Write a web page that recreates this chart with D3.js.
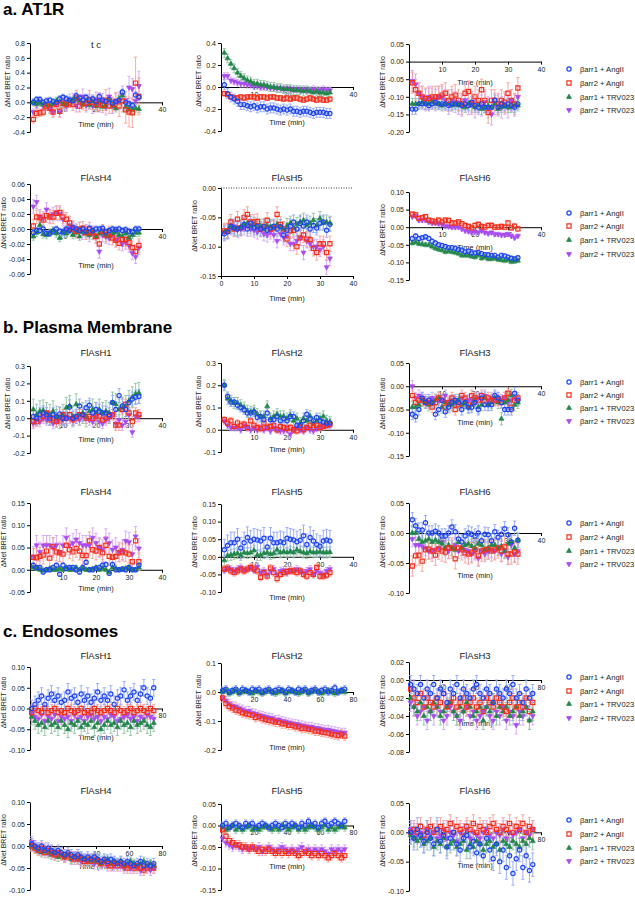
<!DOCTYPE html>
<html><head><meta charset="utf-8">
<script src="https://cdn.jsdelivr.net/npm/d3@7"></script>
<style>body{margin:0;background:#fff}svg{display:block;font-family:"Liberation Sans",Arial,sans-serif}</style>
</head><body><svg id="c" width="635" height="900"></svg>
<script>
// ---------- DATA ----------
const seriesNames = ["βarr1 + AngII","βarr2 + AngII","βarr1 + TRV023","βarr2 + TRV023"];
const sectionTitles = ["a. AT1R","b. Plasma Membrane","c. Endosomes"];
const panelTitles = [["t c","",""],["FlAsH4","FlAsH5","FlAsH6"],["FlAsH1","FlAsH2","FlAsH3"],["FlAsH4","FlAsH5","FlAsH6"],["FlAsH1","FlAsH2","FlAsH3"],["FlAsH4","FlAsH5","FlAsH6"]];
const time_ab = [1,2,3,4,5,6,7,8,9,10,11,12,13,14,15,16,17,18,19,20,21,22,23,24,25,26,27,28,29,30,31,32,33];
const time_c = [1,3,5,7,9,11,13,15,17,19,21,23,25,27,29,31,33,35,37,39,41,43,45,47,49,51,53,55,57,59,61,63,65,67,69,71,73,75];
const xt_ab = [10,20,30,40];
const xt_ab0 = [0,10,20,30,40];
const xt_c = [20,40,60,80];

// a. AT1R
const a_h1_yt = [-0.4,-0.2,0,0.2,0.4,0.6,0.8];
const a_h1_b1A = [0.00,0.04,0.04,0.00,0.02,0.03,0.01,0.00,0.05,0.07,0.05,0.03,0.02,0.09,0.06,0.03,0.07,0.02,0.05,0.01,0.08,0.03,0.01,0.04,-0.01,0.01,0.03,0.14,0.00,-0.02,-0.04,0.10,0.07];
const a_h1_b2A = [-0.23,-0.15,-0.14,-0.13,-0.05,-0.08,-0.13,-0.03,-0.12,-0.01,-0.03,-0.01,-0.03,0.06,-0.05,-0.02,-0.01,0.04,0.00,-0.03,0.01,-0.04,0.03,-0.05,-0.03,0.01,-0.05,0.02,-0.10,-0.13,-0.14,0.26,0.08];
const a_h1_b1T = [0.00,-0.02,-0.01,-0.03,-0.04,-0.04,-0.03,0.02,0.01,-0.03,-0.02,0.02,0.03,0.04,0.03,-0.03,0.02,-0.04,0.01,-0.05,0.00,-0.06,-0.05,0.03,-0.05,-0.08,0.05,0.09,-0.06,-0.09,-0.10,-0.08,-0.09];
const a_h1_b2T = [-0.13,-0.03,0.01,-0.05,-0.02,-0.09,-0.13,-0.02,-0.13,0.00,-0.05,0.03,0.04,-0.05,0.01,0.08,-0.04,0.01,-0.05,0.04,-0.03,0.02,-0.06,0.08,-0.05,0.02,0.02,0.10,0.03,0.20,0.18,0.02,0.22];
const a_h1_b2A_err = [0.05,0.06,0.05,0.05,0.06,0.06,0.07,0.06,0.08,0.07,0.07,0.06,0.08,0.10,0.08,0.08,0.10,0.12,0.10,0.10,0.12,0.10,0.14,0.10,0.10,0.12,0.14,0.15,0.18,0.20,0.20,0.35,0.25];
const a_h1_b2T_err = [0.04,0.05,0.05,0.05,0.06,0.06,0.06,0.06,0.07,0.07,0.07,0.08,0.08,0.08,0.09,0.10,0.09,0.10,0.10,0.10,0.10,0.10,0.11,0.11,0.10,0.10,0.12,0.12,0.12,0.15,0.14,0.12,0.20];
const a_h1_err = [0.04,a_h1_b2A_err,0.05,a_h1_b2T_err];

const a_h2_yt = [-0.4,-0.2,0,0.2,0.4];
const a_h2_b1A = [0.02,-0.06,-0.09,-0.11,-0.13,-0.16,-0.16,-0.17,-0.18,-0.17,-0.19,-0.18,-0.18,-0.20,-0.19,-0.19,-0.20,-0.21,-0.20,-0.21,-0.20,-0.22,-0.22,-0.23,-0.22,-0.22,-0.23,-0.24,-0.23,-0.23,-0.23,-0.24,-0.24];
const a_h2_b2A = [-0.06,-0.07,-0.09,-0.10,-0.10,-0.09,-0.10,-0.09,-0.09,-0.09,-0.10,-0.09,-0.09,-0.10,-0.09,-0.09,-0.10,-0.10,-0.11,-0.10,-0.11,-0.10,-0.10,-0.11,-0.12,-0.11,-0.10,-0.11,-0.12,-0.11,-0.12,-0.12,-0.11];
const a_h2_b1T = [0.31,0.26,0.21,0.17,0.13,0.10,0.08,0.06,0.05,0.03,0.03,0.02,0.02,0.01,0.00,0.00,-0.01,-0.01,-0.02,-0.02,-0.02,-0.03,-0.03,-0.03,-0.04,-0.03,-0.04,-0.05,-0.04,-0.05,-0.05,-0.06,-0.05];
const a_h2_b2T = [0.10,0.10,0.06,0.05,0.04,0.03,0.03,0.02,0.02,0.01,0.01,0.00,0.00,0.00,-0.01,-0.01,-0.01,-0.01,-0.02,-0.01,-0.02,-0.02,-0.02,-0.03,-0.02,-0.03,-0.03,-0.02,-0.03,-0.03,-0.02,-0.03,-0.03];
const a_h2_err = [0.045,0.02,0.04,0.03];

const a_h3_yt = [-0.20,-0.15,-0.10,-0.05,0,0.05];
const a_h3_b1A = [-0.135,-0.135,-0.12,-0.12,-0.12,-0.125,-0.12,-0.115,-0.12,-0.12,-0.12,-0.125,-0.12,-0.12,-0.12,-0.125,-0.12,-0.125,-0.115,-0.125,-0.13,-0.12,-0.13,-0.13,-0.13,-0.11,-0.13,-0.12,-0.125,-0.12,-0.125,-0.13,-0.12];
const a_h3_b2A = [-0.06,-0.08,-0.09,-0.10,-0.105,-0.105,-0.10,-0.10,-0.10,-0.095,-0.09,-0.11,-0.10,-0.095,-0.11,-0.12,-0.09,-0.085,-0.12,-0.10,-0.11,-0.08,-0.11,-0.145,-0.11,-0.11,-0.12,-0.11,-0.115,-0.09,-0.11,-0.12,-0.075];
const a_h3_b1T = [-0.12,-0.12,-0.12,-0.115,-0.12,-0.12,-0.115,-0.12,-0.12,-0.125,-0.12,-0.12,-0.125,-0.12,-0.125,-0.12,-0.13,-0.12,-0.125,-0.13,-0.125,-0.135,-0.13,-0.125,-0.13,-0.12,-0.135,-0.13,-0.125,-0.13,-0.13,-0.125,-0.125];
const a_h3_b2T = [-0.055,-0.065,-0.09,-0.10,-0.11,-0.10,-0.105,-0.11,-0.10,-0.10,-0.11,-0.12,-0.11,-0.115,-0.12,-0.125,-0.11,-0.12,-0.115,-0.13,-0.12,-0.125,-0.115,-0.13,-0.15,-0.12,-0.125,-0.13,-0.12,-0.13,-0.11,-0.125,-0.10];
const a_h3_err = [0.015,0.03,0.015,0.03];

const a_h4_yt = [-0.06,-0.04,-0.02,0,0.02,0.04,0.06];
const a_h4_b1A = [-0.005,-0.002,-0.002,0.000,-0.006,-0.006,-0.003,0.000,-0.003,-0.004,0.000,-0.002,0.002,0.000,-0.002,0.000,-0.003,0.001,-0.002,0.000,0.000,0.001,-0.004,-0.002,0.000,-0.001,0.000,-0.002,-0.001,-0.003,-0.004,0.000,0.000];
const a_h4_b2A = [0.004,0.016,0.015,0.012,0.018,0.016,0.016,0.021,0.022,0.016,0.013,0.008,0.000,-0.003,0.000,0.001,-0.005,0.000,-0.005,-0.010,-0.020,-0.003,-0.008,-0.005,-0.012,-0.015,-0.019,-0.014,-0.014,-0.018,-0.025,-0.030,-0.022];
const a_h4_b1T = [-0.010,-0.005,0.005,-0.007,-0.008,-0.005,-0.002,-0.006,-0.012,-0.004,-0.006,-0.002,-0.008,-0.005,-0.010,-0.004,-0.006,-0.008,-0.004,-0.010,-0.006,-0.005,-0.008,-0.010,-0.006,-0.004,-0.008,-0.010,-0.006,-0.012,-0.008,-0.005,-0.005];
const a_h4_b2T = [0.030,0.036,0.017,0.014,0.026,0.017,0.020,0.022,0.020,0.013,0.000,0.005,0.002,-0.002,0.000,-0.005,-0.003,-0.008,-0.005,-0.010,-0.030,-0.008,-0.010,-0.012,-0.008,-0.015,-0.010,-0.020,-0.018,-0.022,-0.032,-0.037,-0.025];
const a_h4_err = [0.004,0.009,0.005,0.009];

const a_h5_yt = [-0.15,-0.10,-0.05,0];
const a_h5_b1A = [-0.078,-0.075,-0.065,-0.068,-0.070,-0.068,-0.062,-0.070,-0.060,-0.068,-0.065,-0.070,-0.066,-0.072,-0.068,-0.065,-0.070,-0.066,-0.080,-0.072,-0.065,-0.058,-0.070,-0.060,-0.065,-0.058,-0.070,-0.064,-0.068,-0.060,-0.058,-0.072,-0.062];
const a_h5_b2A = [-0.073,-0.073,-0.058,-0.070,-0.053,-0.068,-0.050,-0.045,-0.058,-0.058,-0.057,-0.070,-0.065,-0.055,-0.070,-0.068,-0.045,-0.062,-0.070,-0.087,-0.073,-0.072,-0.100,-0.085,-0.080,-0.087,-0.088,-0.103,-0.110,-0.095,-0.095,-0.110,-0.095];
const a_h5_b1T = [-0.075,-0.072,-0.065,-0.070,-0.068,-0.066,-0.062,-0.060,-0.065,-0.062,-0.068,-0.065,-0.070,-0.064,-0.066,-0.068,-0.062,-0.066,-0.070,-0.064,-0.060,-0.068,-0.062,-0.058,-0.055,-0.063,-0.060,-0.055,-0.064,-0.052,-0.060,-0.058,-0.060];
const a_h5_b2T = [-0.075,-0.073,-0.068,-0.065,-0.072,-0.070,-0.068,-0.065,-0.070,-0.072,-0.075,-0.070,-0.078,-0.080,-0.075,-0.080,-0.090,-0.078,-0.085,-0.082,-0.095,-0.095,-0.090,-0.085,-0.110,-0.090,-0.095,-0.100,-0.100,-0.105,-0.100,-0.135,-0.120];
const a_h5_err = [0.012,0.013,0.012,0.012];

const a_h6_yt = [-0.15,-0.10,-0.05,0,0.05,0.10];
const a_h6_b1A = [-0.032,-0.025,-0.032,-0.030,-0.027,-0.032,-0.040,-0.045,-0.050,-0.052,-0.055,-0.058,-0.058,-0.060,-0.063,-0.065,-0.070,-0.068,-0.073,-0.073,-0.072,-0.075,-0.078,-0.078,-0.080,-0.080,-0.085,-0.080,-0.082,-0.085,-0.088,-0.090,-0.087];
const a_h6_b2A = [0.037,0.035,0.025,0.027,0.030,0.020,0.018,0.015,0.020,0.015,0.020,0.019,0.012,0.012,0.015,0.010,0.005,0.002,-0.002,0.005,0.008,0.002,0.000,0.005,0.005,0.000,0.000,0.002,0.000,0.012,-0.002,0.003,-0.005];
const a_h6_b1T = [-0.045,-0.042,-0.047,-0.048,-0.050,-0.050,-0.055,-0.060,-0.063,-0.065,-0.070,-0.068,-0.070,-0.072,-0.075,-0.080,-0.080,-0.080,-0.083,-0.085,-0.080,-0.088,-0.085,-0.090,-0.090,-0.088,-0.092,-0.093,-0.095,-0.093,-0.098,-0.097,-0.095];
const a_h6_b2T = [0.030,0.032,0.020,0.020,0.020,0.015,0.012,0.012,0.010,0.008,0.003,0.002,0.000,0.000,0.000,-0.005,-0.010,-0.012,-0.015,-0.012,-0.015,-0.010,-0.015,-0.018,-0.015,-0.020,-0.020,-0.022,-0.022,-0.020,-0.025,-0.030,-0.025];
const a_h6_err = [0.006,0.007,0.006,0.006];

// b. Plasma Membrane
const b_h1_yt = [-0.2,-0.1,0,0.1,0.2,0.3];
const b_h1_b1A = [0.010,0.000,0.020,0.030,0.020,0.000,0.020,0.010,0.025,0.000,0.000,0.065,0.000,0.010,0.070,0.020,0.060,0.075,0.030,0.050,0.040,0.030,0.030,0.020,0.090,0.050,0.130,0.070,0.050,0.090,0.110,0.120,0.125];
const b_h1_b2A = [-0.020,-0.020,0.000,0.010,0.030,-0.010,0.000,-0.020,-0.010,0.020,0.000,0.020,-0.010,0.000,0.020,0.020,0.000,0.010,0.000,0.010,0.010,-0.010,0.000,0.010,0.020,-0.040,-0.040,0.050,0.080,0.030,-0.020,0.030,0.020];
const b_h1_b1T = [0.050,0.020,0.040,0.045,0.030,0.020,0.040,0.010,0.000,0.020,0.060,0.070,0.010,0.080,0.020,0.030,0.010,0.040,0.050,0.030,0.050,0.030,0.040,0.030,0.090,0.080,0.050,0.060,0.070,0.100,0.120,0.140,0.145];
const b_h1_b2T = [-0.030,-0.010,-0.020,0.000,-0.010,0.010,-0.030,-0.020,0.000,-0.010,0.010,0.000,-0.010,0.010,-0.010,0.020,0.000,-0.010,-0.020,0.010,-0.020,-0.030,-0.010,0.000,0.020,-0.030,-0.010,-0.040,-0.020,0.020,-0.080,0.010,0.010];
const b_h1_err = [0.04,0.03,0.06,0.03];

const b_h2_yt = [-0.1,0,0.1,0.2,0.3];
const b_h2_b1A = [0.200,0.150,0.125,0.125,0.110,0.100,0.090,0.075,0.075,0.080,0.055,0.060,0.045,0.075,0.045,0.045,0.060,0.040,0.050,0.040,0.060,0.060,0.020,0.020,0.040,0.070,0.050,0.040,0.055,0.040,0.035,0.030,0.030];
const b_h2_b2A = [0.045,0.030,0.040,0.015,0.030,0.020,0.025,0.010,0.040,0.020,0.010,0.005,0.030,0.010,0.015,0.020,0.000,0.015,0.010,0.005,0.010,0.000,-0.005,0.010,0.000,0.010,0.020,0.010,0.020,0.010,0.015,0.020,0.025];
const b_h2_b1T = [0.200,0.140,0.130,0.120,0.120,0.110,0.100,0.085,0.080,0.085,0.070,0.060,0.060,0.105,0.050,0.060,0.070,0.060,0.060,0.050,0.065,0.040,0.050,0.030,0.050,0.040,0.060,0.030,0.040,0.050,0.060,0.040,0.035];
const b_h2_b2T = [0.040,0.020,0.010,0.010,0.010,0.000,0.020,0.010,0.000,0.010,0.000,0.010,0.000,0.010,-0.005,0.010,0.000,-0.005,-0.005,0.000,-0.020,0.000,0.010,0.000,-0.005,0.010,0.000,-0.005,0.005,0.010,0.020,0.020,0.020];
const b_h2_err = [0.02,0.015,0.025,0.015];

const b_h3_yt = [-0.15,-0.10,-0.05,0,0.05];
const b_h3_b1A = [-0.060,-0.065,-0.050,-0.025,-0.035,-0.030,-0.035,-0.060,-0.050,-0.030,-0.055,-0.045,-0.035,-0.030,-0.035,-0.050,-0.035,-0.045,-0.045,-0.035,-0.050,-0.025,-0.040,-0.040,-0.040,-0.020,-0.025,-0.035,-0.050,-0.050,-0.050,-0.015,-0.030];
const b_h3_b2A = [-0.020,-0.035,-0.030,-0.030,-0.035,-0.035,-0.045,-0.035,-0.025,-0.030,-0.045,-0.035,-0.025,-0.050,-0.040,-0.020,-0.025,-0.040,-0.020,-0.025,-0.030,-0.020,-0.030,-0.025,-0.030,-0.030,-0.030,-0.035,-0.025,-0.015,-0.045,-0.030,-0.025];
const b_h3_b1T = [-0.045,-0.045,-0.040,-0.030,-0.035,-0.040,-0.035,-0.030,-0.025,-0.045,-0.035,-0.040,-0.040,-0.035,-0.030,-0.040,-0.035,-0.045,-0.040,-0.030,-0.045,-0.040,-0.025,-0.040,-0.035,-0.025,-0.035,-0.070,-0.035,-0.030,-0.020,-0.040,-0.035];
const b_h3_b2T = [0.000,-0.025,-0.020,-0.025,-0.030,-0.035,-0.025,-0.030,-0.030,-0.030,-0.020,-0.035,-0.030,-0.035,-0.030,-0.025,-0.035,-0.030,-0.030,-0.035,-0.025,-0.030,-0.020,-0.030,-0.025,-0.030,-0.025,-0.030,-0.025,-0.035,-0.030,-0.025,-0.030];
const b_h3_err = [0.012,0.012,0.013,0.012];

const b_h4_yt = [-0.05,0,0.05,0.10,0.15];
const b_h4_b1A = [0.010,0.005,0.005,-0.005,0.000,0.000,0.005,0.010,-0.010,0.010,0.003,0.005,0.005,0.000,-0.005,0.005,0.017,0.000,0.000,0.003,0.005,0.010,0.012,-0.008,0.012,0.000,0.000,0.002,0.000,0.005,0.000,0.000,0.010];
const b_h4_b2A = [0.028,0.027,0.030,0.033,0.042,0.026,0.052,0.040,0.038,0.035,0.055,0.045,0.040,0.048,0.042,0.032,0.032,0.065,0.045,0.042,0.050,0.038,0.055,0.030,0.028,0.030,0.038,0.040,0.038,0.035,0.018,0.065,0.018];
const b_h4_b1T = [0.005,0.003,0.000,-0.002,0.000,0.003,0.000,0.000,0.003,0.000,0.005,0.000,0.000,0.005,0.000,0.003,0.000,0.000,0.002,0.005,0.000,0.003,0.000,-0.005,0.005,0.003,0.000,0.000,0.003,0.005,0.000,0.000,0.005];
const b_h4_b2T = [0.030,0.055,0.040,0.055,0.055,0.055,0.050,0.055,0.040,0.055,0.072,0.055,0.060,0.068,0.060,0.055,0.055,0.055,0.072,0.060,0.050,0.045,0.070,0.060,0.045,0.050,0.040,0.045,0.065,0.062,0.035,0.075,0.048];
const b_h4_err = [0.005,0.02,0.004,0.022];

const b_h5_yt = [-0.10,-0.05,0,0.05,0.10,0.15];
const b_h5_b1A = [0.020,0.032,0.040,0.040,0.050,0.025,0.040,0.055,0.045,0.050,0.048,0.045,0.053,0.028,0.053,0.040,0.040,0.043,0.040,0.053,0.050,0.048,0.043,0.047,0.060,0.035,0.055,0.045,0.035,0.030,0.045,0.048,0.045];
const b_h5_b2A = [-0.035,-0.032,-0.040,-0.045,-0.040,-0.035,-0.040,-0.035,-0.030,-0.035,-0.040,-0.058,-0.045,-0.055,-0.032,-0.045,-0.062,-0.050,-0.045,-0.042,-0.040,-0.040,-0.045,-0.040,-0.050,-0.055,-0.045,-0.050,-0.030,-0.055,-0.055,-0.052,-0.045];
const b_h5_b1T = [-0.010,0.003,0.005,0.008,0.010,0.005,0.012,0.010,0.012,0.018,0.005,0.005,0.010,0.012,0.008,0.010,0.020,0.012,0.015,0.012,0.015,0.012,0.020,0.015,0.012,0.010,0.015,0.012,0.013,0.015,0.012,0.012,0.013];
const b_h5_b2T = [-0.038,-0.032,-0.035,-0.040,-0.035,-0.030,-0.038,-0.035,-0.030,-0.038,-0.028,-0.045,-0.040,-0.050,-0.040,-0.035,-0.050,-0.040,-0.038,-0.045,-0.038,-0.040,-0.035,-0.040,-0.045,-0.040,-0.035,-0.050,-0.040,-0.045,-0.050,-0.040,-0.035];
const b_h5_err = [0.03,0.01,0.015,0.01];

const b_h6_yt = [-0.10,-0.05,0,0.05];
const b_h6_b1A = [0.022,0.012,0.005,0.005,0.017,0.000,0.000,0.003,0.000,-0.005,-0.005,0.000,0.010,0.002,-0.010,-0.015,-0.005,0.000,-0.002,-0.005,0.000,-0.013,-0.002,-0.003,-0.013,0.002,-0.007,-0.002,0.007,-0.003,-0.015,0.008,-0.012];
const b_h6_b2A = [-0.055,-0.038,-0.037,-0.047,-0.028,-0.027,-0.030,-0.037,-0.027,-0.030,-0.032,-0.025,-0.025,-0.043,-0.025,-0.028,-0.033,-0.035,-0.033,-0.028,-0.038,-0.030,-0.028,-0.027,-0.030,-0.028,-0.025,-0.030,-0.023,-0.035,-0.035,-0.032,-0.035];
const b_h6_b1T = [0.000,0.000,-0.010,-0.015,-0.013,-0.010,-0.015,-0.012,-0.015,-0.018,-0.025,-0.020,-0.025,-0.028,-0.015,-0.025,-0.020,-0.018,-0.022,-0.025,-0.018,-0.020,-0.028,-0.025,-0.020,-0.020,-0.025,-0.022,-0.030,-0.018,-0.015,-0.025,-0.012];
const b_h6_b2T = [-0.010,-0.020,-0.020,-0.022,-0.025,-0.030,-0.030,-0.028,-0.025,-0.015,-0.025,-0.030,-0.025,-0.020,-0.030,-0.025,-0.028,-0.030,-0.035,-0.030,-0.042,-0.030,-0.035,-0.030,-0.028,-0.030,-0.025,-0.035,-0.030,-0.040,-0.020,-0.035,-0.030];
const b_h6_err = [0.012,0.017,0.012,0.013];

// c. Endosomes
const c_h1_yt = [-0.10,-0.05,0,0.05,0.10];
const c_h1_b1A = [.000,.010,.020,.030,.010,.025,.035,.020,.030,.015,.020,.040,.025,.030,.015,.035,.020,.030,.015,.025,.040,.020,.030,.020,.035,.010,.025,.030,.045,.020,.030,.040,.020,.035,.050,.030,.025,.050];
const c_h1_b2A = [-.010,.000,-.005,-.010,.000,-.010,-.005,.000,-.010,-.005,-.010,.000,-.005,-.010,-.005,.000,-.010,-.005,-.010,.000,-.005,-.010,-.005,.000,-.005,-.010,.000,-.005,-.010,-.005,.000,-.010,-.005,.000,-.005,-.010,.000,-.005];
const c_h1_b1T = [-.020,-.030,-.040,-.035,-.045,-.030,-.040,-.035,-.045,-.030,-.040,-.050,-.035,-.040,-.030,-.045,-.035,-.040,-.030,-.045,-.035,-.050,-.040,-.030,-.040,-.035,-.045,-.030,-.040,-.035,-.045,-.030,-.040,-.035,-.030,-.040,-.045,-.035];
const c_h1_b2T = [-.010,-.020,-.025,-.015,-.030,-.020,-.025,-.015,-.030,-.020,-.025,-.020,-.030,-.015,-.025,-.020,-.030,-.020,-.015,-.025,-.020,-.030,-.020,-.025,-.015,-.020,-.030,-.025,-.020,-.015,-.025,-.020,-.030,-.020,-.025,-.015,-.020,-.025];
const c_h1_err = [0.02,0.015,0.02,0.018];

const c_h2_yt = [-0.2,-0.1,0,0.1];
const c_h2_b1A = [.005,.010,.000,.005,.010,.000,.010,.005,.000,.010,.005,.010,.000,.005,.010,.000,.005,.010,.005,.000,.010,.005,.000,.010,.005,.010,.000,.005,.010,.000,.005,.010,.000,.005,.015,.000,.005,.010];
const c_h2_b2A = [-.020,-.040,-.050,-.055,-.062,-.065,-.072,-.075,-.078,-.080,-.088,-.085,-.092,-.095,-.098,-.100,-.104,-.105,-.110,-.110,-.115,-.115,-.120,-.120,-.126,-.125,-.128,-.130,-.135,-.135,-.138,-.140,-.142,-.145,-.148,-.150,-.145,-.152];
const c_h2_b1T = [.000,.005,-.005,.000,.005,-.005,.000,.005,.000,-.005,.005,.000,-.005,.000,.005,.000,-.005,.000,.005,-.005,.000,.005,.000,-.005,.000,.005,-.005,.000,.005,.000,-.005,.000,.005,.000,-.005,.000,.005,.000];
const c_h2_b2T = [-.020,-.030,-.040,-.048,-.050,-.056,-.060,-.066,-.065,-.072,-.075,-.080,-.082,-.085,-.088,-.090,-.096,-.095,-.100,-.102,-.105,-.108,-.110,-.112,-.115,-.118,-.120,-.120,-.124,-.125,-.128,-.130,-.130,-.133,-.135,-.138,-.140,-.140];
const c_h2_err = [0.012,0.015,0.01,0.015];

const c_h3_yt = [-0.08,-0.06,-0.04,-0.02,0,0.02];
const c_h3_b1A = [-.005,-.010,-.015,-.005,-.020,-.010,-.015,-.005,-.020,-.010,-.015,-.025,-.010,-.015,-.005,-.020,-.010,-.015,-.020,-.010,-.005,-.015,-.020,-.010,-.015,-.025,-.010,-.015,-.020,-.010,-.015,-.005,-.020,-.015,-.025,-.010,-.020,-.015];
const c_h3_b2A = [-.010,-.020,-.025,-.015,-.030,-.020,-.025,-.030,-.020,-.025,-.015,-.030,-.025,-.020,-.030,-.025,-.020,-.030,-.025,-.020,-.030,-.025,-.035,-.020,-.025,-.030,-.020,-.025,-.030,-.035,-.025,-.020,-.030,-.025,-.030,-.020,-.035,-.025];
const c_h3_b1T = [-.020,-.030,-.035,-.025,-.040,-.030,-.035,-.025,-.030,-.040,-.035,-.030,-.025,-.035,-.040,-.030,-.035,-.025,-.030,-.040,-.035,-.030,-.045,-.030,-.035,-.025,-.040,-.030,-.035,-.030,-.040,-.035,-.030,-.040,-.035,-.030,-.045,-.035];
const c_h3_b2T = [-.025,-.030,-.040,-.035,-.030,-.045,-.035,-.040,-.030,-.035,-.045,-.040,-.030,-.035,-.040,-.045,-.035,-.030,-.040,-.035,-.045,-.040,-.035,-.030,-.040,-.045,-.035,-.040,-.030,-.045,-.035,-.040,-.050,-.035,-.040,-.030,-.045,-.040];
const c_h3_err = [0.01,0.01,0.01,0.01];

const c_h4_yt = [-0.10,-0.05,0,0.05,0.10];
const c_h4_b1A = [.005,.000,-.005,.000,-.010,-.005,-.010,-.015,-.010,-.015,-.020,-.015,-.020,-.025,-.020,-.025,-.030,-.025,-.030,-.025,-.030,-.035,-.030,-.035,-.030,-.035,-.040,-.035,-.040,-.035,-.040,-.045,-.040,-.035,-.045,-.040,-.045,-.040];
const c_h4_b2A = [.000,-.005,-.010,-.005,-.015,-.010,-.015,-.020,-.015,-.020,-.025,-.020,-.025,-.030,-.025,-.030,-.035,-.030,-.035,-.030,-.035,-.040,-.035,-.040,-.045,-.040,-.045,-.040,-.045,-.050,-.045,-.050,-.045,-.050,-.055,-.050,-.045,-.050];
const c_h4_b1T = [.000,-.005,-.010,-.015,-.010,-.015,-.020,-.015,-.025,-.020,-.025,-.020,-.030,-.025,-.030,-.025,-.030,-.035,-.030,-.035,-.030,-.040,-.035,-.030,-.040,-.035,-.040,-.035,-.045,-.040,-.035,-.040,-.045,-.040,-.035,-.045,-.040,-.045];
const c_h4_b2T = [.010,.000,-.005,-.010,-.005,-.015,-.010,-.020,-.015,-.020,-.025,-.020,-.030,-.025,-.030,-.035,-.030,-.035,-.030,-.040,-.035,-.040,-.035,-.045,-.040,-.045,-.040,-.045,-.050,-.045,-.050,-.045,-.050,-.055,-.050,-.045,-.055,-.050];
const c_h4_err = [0.012,0.012,0.01,0.012];

const c_h5_yt = [-0.15,-0.10,-0.05,0,0.05];
const c_h5_b1A = [.000,.005,-.005,.000,.005,.000,-.005,.005,.000,.005,-.005,.000,.005,.000,-.005,.000,.005,.000,-.005,.005,.000,.005,.000,-.005,.005,.000,.010,.000,.005,-.005,.005,.010,.000,.005,.010,.005,.000,.010];
const c_h5_b2A = [-.010,-.025,-.035,-.040,-.045,-.045,-.050,-.050,-.055,-.050,-.055,-.060,-.055,-.060,-.055,-.060,-.065,-.060,-.065,-.060,-.065,-.060,-.065,-.070,-.065,-.060,-.065,-.070,-.065,-.070,-.065,-.070,-.075,-.070,-.065,-.070,-.075,-.070];
const c_h5_b1T = [-.005,-.010,-.005,.000,-.010,-.005,-.010,-.005,.000,-.010,-.005,-.010,-.005,.000,-.005,-.010,-.005,-.010,.000,-.005,-.010,-.005,.000,-.010,-.005,-.010,-.005,.000,-.005,-.010,-.005,.000,-.010,-.005,-.010,-.005,.000,-.005];
const c_h5_b2T = [-.030,-.040,-.045,-.050,-.045,-.050,-.055,-.050,-.055,-.050,-.055,-.050,-.060,-.055,-.050,-.055,-.060,-.055,-.050,-.055,-.060,-.055,-.060,-.055,-.050,-.060,-.055,-.060,-.055,-.060,-.055,-.060,-.065,-.055,-.060,-.055,-.060,-.055];
const c_h5_err = [0.008,0.01,0.008,0.01];

const c_h6_yt = [-0.10,-0.05,0,0.05];
const c_h6_b1A = [.000,-.010,.005,-.005,-.015,.000,-.010,-.020,.005,-.015,-.005,-.025,-.010,.000,-.020,-.030,-.010,-.005,-.025,-.015,-.035,-.020,-.040,-.010,-.030,-.045,-.020,-.050,-.030,-.060,-.040,-.070,-.045,-.030,-.060,-.040,-.065,-.055];
const c_h6_b2A = [.000,.005,.000,.010,-.005,.005,.010,.000,.005,.010,.000,.005,.015,.000,.010,.005,.000,.010,.005,.015,.000,.010,.005,.000,.010,.015,.005,.000,.010,.005,.015,.000,.010,.005,.015,.000,.010,.005];
const c_h6_b1T = [-.005,-.010,-.015,-.010,-.020,-.015,-.010,-.025,-.015,-.020,-.010,-.025,-.020,-.015,-.025,-.020,-.015,-.030,-.020,-.025,-.015,-.020,-.030,-.020,-.015,-.025,-.020,-.030,-.015,-.020,-.025,-.015,-.020,-.025,-.015,-.020,-.010,-.015];
const c_h6_b2T = [.005,.000,-.005,.000,-.010,.005,-.005,.000,-.010,-.005,.005,-.010,.000,-.005,-.015,.000,-.005,.005,-.010,.000,-.005,-.010,.000,.005,-.005,-.010,.000,-.005,.005,-.010,.000,-.005,.000,.005,-.010,.000,-.005,.005];
const c_h6_err = [0.02,0.015,0.015,0.015];

// ---------- TABLE ----------
const panelData = [
  [[time_ab,xt_ab,a_h1_yt,[a_h1_b1A,a_h1_b2A,a_h1_b1T,a_h1_b2T],a_h1_err],
   [time_ab,xt_ab,a_h2_yt,[a_h2_b1A,a_h2_b2A,a_h2_b1T,a_h2_b2T],a_h2_err],
   [time_ab,xt_ab,a_h3_yt,[a_h3_b1A,a_h3_b2A,a_h3_b1T,a_h3_b2T],a_h3_err]],
  [[time_ab,xt_ab,a_h4_yt,[a_h4_b1A,a_h4_b2A,a_h4_b1T,a_h4_b2T],a_h4_err],
   [time_ab,xt_ab0,a_h5_yt,[a_h5_b1A,a_h5_b2A,a_h5_b1T,a_h5_b2T],a_h5_err],
   [time_ab,xt_ab,a_h6_yt,[a_h6_b1A,a_h6_b2A,a_h6_b1T,a_h6_b2T],a_h6_err]],
  [[time_ab,xt_ab,b_h1_yt,[b_h1_b1A,b_h1_b2A,b_h1_b1T,b_h1_b2T],b_h1_err],
   [time_ab,xt_ab,b_h2_yt,[b_h2_b1A,b_h2_b2A,b_h2_b1T,b_h2_b2T],b_h2_err],
   [time_ab,xt_ab,b_h3_yt,[b_h3_b1A,b_h3_b2A,b_h3_b1T,b_h3_b2T],b_h3_err]],
  [[time_ab,xt_ab,b_h4_yt,[b_h4_b1A,b_h4_b2A,b_h4_b1T,b_h4_b2T],b_h4_err],
   [time_ab,xt_ab,b_h5_yt,[b_h5_b1A,b_h5_b2A,b_h5_b1T,b_h5_b2T],b_h5_err],
   [time_ab,xt_ab,b_h6_yt,[b_h6_b1A,b_h6_b2A,b_h6_b1T,b_h6_b2T],b_h6_err]],
  [[time_c,xt_c,c_h1_yt,[c_h1_b1A,c_h1_b2A,c_h1_b1T,c_h1_b2T],c_h1_err],
   [time_c,xt_c,c_h2_yt,[c_h2_b1A,c_h2_b2A,c_h2_b1T,c_h2_b2T],c_h2_err],
   [time_c,xt_c,c_h3_yt,[c_h3_b1A,c_h3_b2A,c_h3_b1T,c_h3_b2T],c_h3_err]],
  [[time_c,xt_c,c_h4_yt,[c_h4_b1A,c_h4_b2A,c_h4_b1T,c_h4_b2T],c_h4_err],
   [time_c,xt_c,c_h5_yt,[c_h5_b1A,c_h5_b2A,c_h5_b1T,c_h5_b2T],c_h5_err],
   [time_c,xt_c,c_h6_yt,[c_h6_b1A,c_h6_b2A,c_h6_b1T,c_h6_b2T],c_h6_err]]
];

// ---------- LAYOUT / STYLE ----------
const colX = [30,221,409], PW = 132;
const topBot = [[[43,132],[43,131],[44,132]],[[184,274],[188,276],[192,280]],[[366,453],[363,452],[363,456]],
                [[503,592],[504,592],[503,593]],[[667,750],[663,750],[662,752]],[[802,890],[804,890],[803,891]]];
const titleY = [48,181,356,495,659,794];
const timeY = [[124,122,82],[265,298,247],[439,449,422],[588,597,575],[737,747,723],[866,866,865]];
const legendY = [[69,83,97,110],[213,226,240,254],[382,395,408,421],[523,537,551,564],[677,691,704,718],[820,834,848,861]];
const secY = [15,333,637];
const colors = ["#1f46f2","#f4301d","#22874a","#a84cf0"];
const errColors = ["#93a6f8","#f8a097","#8fc3a3","#d4a6f7"];

const svg = d3.select("#c");
svg.append("rect").attr("width",635).attr("height",900).attr("fill","#fff");

sectionTitles.forEach((t,i)=>{
  svg.append("text").attr("x",3).attr("y",secY[i]).attr("font-size",17).attr("font-weight","bold").attr("fill","#000").text(t);
});

const sqPath = d3.symbol().type(d3.symbolSquare).size(17)();
const triPath = d3.symbol().type(d3.symbolTriangle).size(11)();

function fmt(step){
  const d = step < 0.1 - 1e-9 ? 2 : 1;
  return v => (Math.abs(v)<1e-12?0:v).toFixed(d);
}

function drawMarker(g,k,px,py){
  if(k===0){
    g.append("circle").attr("cx",px).attr("cy",py).attr("r",2.1).attr("fill","none")
      .attr("stroke",colors[0]).attr("stroke-width",1.2);
  } else if(k===1){
    g.append("path").attr("d",sqPath).attr("transform",`translate(${px},${py})`)
      .attr("fill","none").attr("stroke",colors[1]).attr("stroke-width",1.2);
  } else if(k===2){
    g.append("path").attr("d",triPath).attr("transform",`translate(${px},${py})`)
      .attr("fill",colors[2]).attr("stroke",colors[2]).attr("stroke-width",0.7);
  } else {
    g.append("path").attr("d",triPath).attr("transform",`translate(${px},${py}) rotate(180)`)
      .attr("fill",colors[3]).attr("stroke",colors[3]).attr("stroke-width",0.7);
  }
}

panelData.forEach((row,r)=>{
  row.forEach((pd,c)=>{
    const [t,xt,yt,series,errs] = pd;
    const [top,bot] = topBot[r][c];
    const x0 = colX[c];
    const xMax = xt[xt.length-1];
    const x = d3.scaleLinear().domain([0,xMax]).range([x0,x0+PW]);
    const y = d3.scaleLinear().domain([d3.min(yt),d3.max(yt)]).range([bot,top]);
    const g = svg.append("g");
    const step = yt[1]-yt[0];
    const ya = g.append("g").attr("transform",`translate(${x0},0)`)
      .call(d3.axisLeft(y).tickValues(yt).tickSize(3).tickSizeOuter(0).tickPadding(2).tickFormat(fmt(step)));
    ya.selectAll("text").attr("font-size",7).attr("fill","#222").attr("font-family","Liberation Sans, Arial, sans-serif");
    ya.selectAll("line,path").attr("stroke","#000").attr("stroke-width",1);
    let maxW = 0; ya.selectAll("text").each(function(){maxW=Math.max(maxW,this.getBBox().width);});
    const atBottom = (r===1 && c===1);
    const xAxisY = atBottom ? bot : y(0);
    const xa = g.append("g").attr("transform",`translate(0,${xAxisY})`)
      .call(d3.axisBottom(x).tickValues(xt).tickSize(3).tickSizeOuter(0).tickPadding(2));
    xa.selectAll("text").attr("font-size",7).attr("fill","#222").attr("font-family","Liberation Sans, Arial, sans-serif");
    xa.selectAll("line,path").attr("stroke","#000").attr("stroke-width",1);
    if(atBottom){
      g.append("line").attr("x1",x0).attr("x2",x0+PW).attr("y1",y(0)).attr("y2",y(0))
        .attr("stroke","#000").attr("stroke-width",0.8).attr("stroke-dasharray","1,1.5");
    }
    g.append("text").attr("transform",`translate(${x0-maxW-8},${(top+bot)/2-6}) rotate(-90)`)
      .attr("text-anchor","middle").attr("font-size",7).attr("fill","#222").text("ΔNet BRET ratio");
    g.append("text").attr("x",x0+PW/2).attr("y",timeY[r][c]+2.5).attr("text-anchor","middle")
      .attr("font-size",7.5).attr("fill","#222").text("Time (min)");
    const ttl = panelTitles[r][c];
    if(ttl) g.append("text").attr("x",x0+PW/2).attr("y",titleY[r]).attr("text-anchor","middle")
      .attr("font-size",9.5).attr("fill","#222").text(ttl);
    const order = [3,2,1,0];
    order.forEach(k=>{
      const vals = series[k], e = errs[k];
      vals.forEach((v,i)=>{
        if(i>=t.length) return;
        const ev = Array.isArray(e) ? e[i] : e;
        const px = x(t[i]);
        const y1 = y(v+ev), y2 = y(v-ev);
        g.append("line").attr("x1",px).attr("x2",px).attr("y1",y1).attr("y2",y2)
          .attr("stroke",errColors[k]).attr("stroke-width",0.9);
        [y1,y2].forEach(yy=>g.append("line").attr("x1",px-1.6).attr("x2",px+1.6).attr("y1",yy).attr("y2",yy)
          .attr("stroke",errColors[k]).attr("stroke-width",0.9));
      });
    });
    order.forEach(k=>{
      series[k].forEach((v,i)=>{
        if(i>=t.length) return;
        drawMarker(g,k,x(t[i]),y(v));
      });
    });
  });
  seriesNames.forEach((nm,k)=>{
    const ly = legendY[r][k];
    drawMarker(svg,k,569,ly);
    svg.append("text").attr("x",580).attr("y",ly+2.6).attr("font-size",7.6).attr("fill","#222").text(nm);
  });
});
</script>
</body></html>
